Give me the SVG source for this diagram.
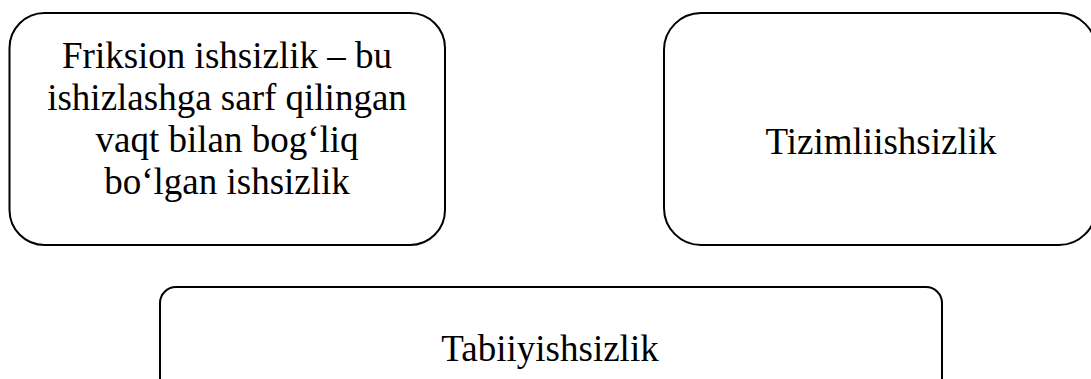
<svg xmlns="http://www.w3.org/2000/svg" width="1091" height="379" viewBox="0 0 1091 379">
<style>
.box{fill:#fff;stroke:#000;stroke-width:2}
.t{font-family:"Liberation Serif","Times New Roman",serif;font-size:37px;fill:#000;text-anchor:middle}
</style>
<rect width="1091" height="379" fill="#fff"/>
<g id="node-friksion">
<rect class="box" x="9.5" y="13" width="435.5" height="232" rx="35" ry="35"/>
<text class="t" x="227" y="68">Friksion ishsizlik – bu</text>
<text class="t" x="227" y="110">ishizlashga sarf qilingan</text>
<text class="t" x="227" y="152">vaqt bilan bog‘liq</text>
<text class="t" x="227" y="194">bo‘lgan ishsizlik</text>
</g>
<g id="node-tizimli">
<rect class="box" x="664" y="13" width="432" height="232" rx="37" ry="37"/>
<text class="t" x="881" y="154">Tizimliishsizlik</text>
</g>
<g id="node-tabiiy">
<rect class="box" x="160" y="287" width="782" height="130" rx="16" ry="16"/>
<text class="t" x="550" y="361">Tabiiyishsizlik</text>
</g>
<g id="connectors"></g>
</svg>
